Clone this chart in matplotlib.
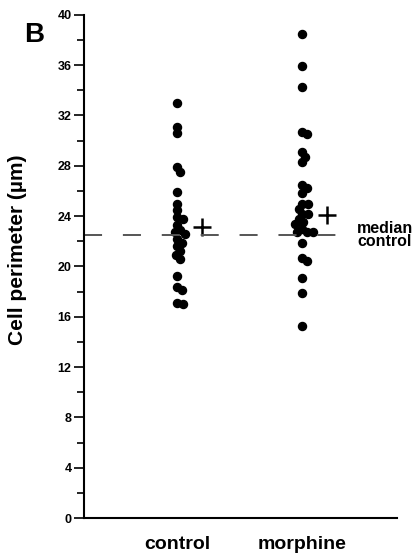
import numpy as np
import matplotlib
matplotlib.use("Agg")
import matplotlib.pyplot as plt
from matplotlib.ticker import MultipleLocator

# values (cell perimeter, um)
groups = ["control", "morphine"]
control = [33.0, 31.1, 30.6, 27.9, 27.5, 25.9, 25.0, 24.5, 23.9, 23.8,
           23.3, 22.9, 22.7, 22.6, 22.2, 21.9, 21.6, 21.2, 20.9, 20.6,
           19.2, 18.4, 18.1, 17.1, 17.0]
morphine = [38.5, 35.9, 34.3, 30.7, 30.5, 29.1, 28.7, 28.3, 26.5, 26.2,
            25.8, 25.0, 25.0, 24.6, 24.2, 24.2, 23.8, 23.5, 23.4, 23.0,
            22.7, 22.7, 22.7, 21.9, 20.7, 20.4, 19.1, 17.9, 15.3]
group_means = [23.1, 24.1]
median_control = 22.5
yticks = [0, 4, 8, 12, 16, 20, 24, 28, 32, 36, 40]

plt.rcParams["font.family"] = ["Liberation Sans", "DejaVu Sans"]
plt.rcParams["font.weight"] = "bold"
plt.rcParams["lines.scale_dashes"] = False


def swarm(values, center, ax, diam):
    # simple beeswarm in pixel space
    trans = ax.transData
    pts = trans.transform(np.column_stack([np.full(len(values), center), values]))
    cx = pts[0, 0]
    placed = []
    out = []
    for px, py in pts:
        cands = [0.0]
        for qx, qy in placed:
            dy = py - qy
            if abs(dy) < diam:
                dx = np.sqrt(diam ** 2 - dy ** 2)
                cands += [qx + dx, qx - dx]
        cands.sort(key=abs)
        for c in cands:
            if all((c - qx) ** 2 + (py - qy) ** 2 >= diam ** 2 - 1e-6 for qx, qy in placed):
                placed.append((c, py))
                out.append(c)
                break
    xs = trans.inverted().transform(np.column_stack([cx + np.array(out), pts[:, 1]]))[:, 0]
    return xs


fig = plt.figure(figsize=(4.19, 5.56), dpi=100)
ax = fig.add_axes([0.2005, 0.0683, 0.747, 0.905])
ax.set_xlim(0.256, 2.76)
ax.set_ylim(0, 40)

for i, vals in enumerate([control, morphine]):
    xs = swarm(vals, i + 1, ax, 6.0)
    ax.plot(xs, vals, "o", color="black", markersize=5.8, linestyle="none", clip_on=False)
    ax.plot(i + 1.2, group_means[i], "+", color="black", markersize=13, mew=1.8)

ax.plot([0.256, 2.33], [median_control, median_control], color="#555555",
        lw=1.4, dashes=(13, 15))
ax.text(2.44, median_control, "median\ncontrol", fontsize=11.5, fontweight="bold",
        ha="left", va="center", linespacing=0.9)

ax.spines["top"].set_visible(False)
ax.spines["right"].set_visible(False)
ax.spines["left"].set_linewidth(1.5)
ax.spines["bottom"].set_linewidth(1.5)

ax.set_yticks(yticks)
ax.set_yticklabels([str(t) for t in yticks], fontsize=9, fontweight="bold")
ax.yaxis.set_minor_locator(MultipleLocator(2))
ax.tick_params(axis="y", which="major", length=7, width=1.2, pad=2)
ax.tick_params(axis="y", which="minor", length=5, width=1.2)

ax.set_xticks([1, 2])
ax.set_xticklabels(groups, fontsize=14, fontweight="bold")
ax.tick_params(axis="x", length=0, pad=13)

ax.set_ylabel("Cell perimeter (µm)", fontsize=15, fontweight="bold")
ax.yaxis.set_label_coords(-0.182, 0.533)

fig.text(0.081, 0.937, "B", fontsize=20, fontweight="bold", ha="center", va="center")

fig.savefig("out.png", dpi=100)
